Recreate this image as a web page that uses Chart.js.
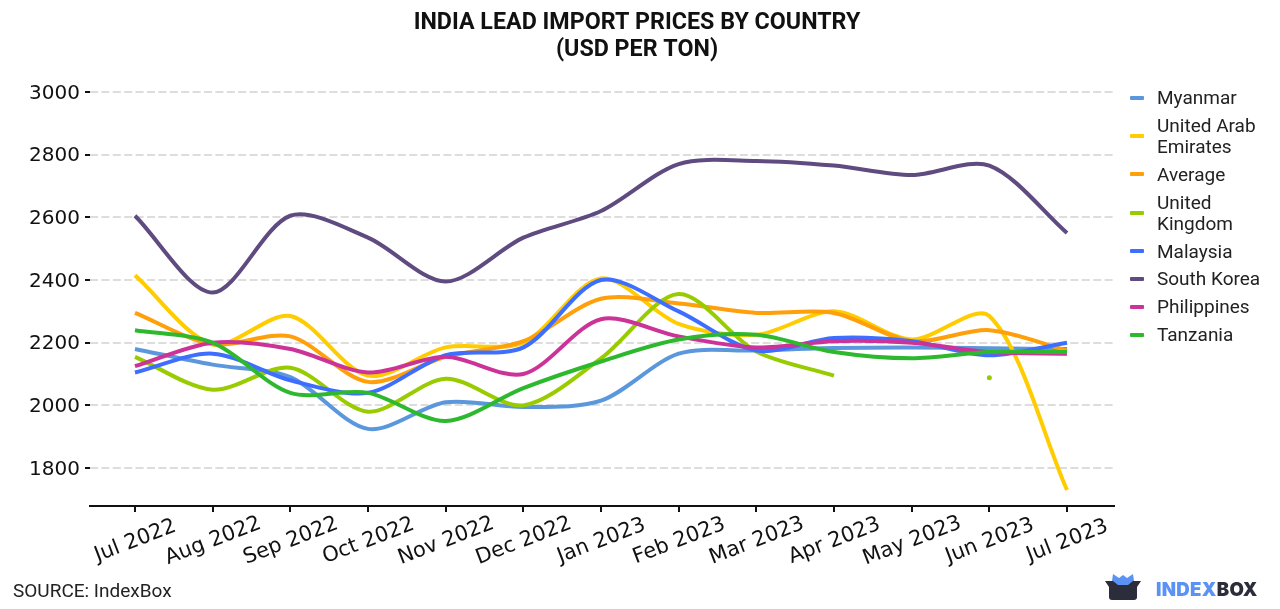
<!DOCTYPE html>
<html>
<head>
<meta charset="utf-8">
<style>
  html, body { margin: 0; padding: 0; background: #fff; overflow: hidden; }
  #wrap { position: relative; width: 1280px; height: 609px; }
  #source { position: absolute; left: 13px; top: 579px; font: 19px Roboto, sans-serif; color: #222; }
  #logo { position: absolute; left: 1104px; top: 572px; }
  #logoText { position: absolute; left: 1156px; top: 578px; font: 900 18.6px Inter, Roboto, sans-serif; color: #2b2d3b; letter-spacing: 0.3px; }
  #logoText span { color: #5b93f5; }
  #legend { position: absolute; left: 1130px; top: 87px; font: 19px/21px Roboto, sans-serif; color: #222; }
  .row { display: flex; align-items: center; margin-bottom: 6.9px; }
  .swatch { width: 14px; height: 4px; margin-right: 13px; border-radius: 1px; }
</style>
</head>
<body>
<div id="wrap">
  <canvas id="chart" width="1280" height="609"></canvas>
  <div id="legend"></div>
  <div id="source">SOURCE: IndexBox</div>
  <svg id="logo" width="38" height="30" viewBox="0 0 38 30">
    <path d="M8 9 L9 2 L15 6 L19 3 L23 6 L29 2 L30 9 L27 14 L11 14 Z" fill="#5b93f5"/>
    <path d="M1 9 L9 9 L14 13 L24 13 L29 9 L37 9 L33 15 L33 25 Q33 28 30 28 L8 28 Q5 28 5 25 L5 15 Z" fill="#2b2d3b"/>
  </svg>
  <div id="logoText"><span>INDEX</span>BOX</div>
</div>
<script src="https://cdn.jsdelivr.net/npm/chart.js@4/dist/chart.umd.min.js"></script>
<script>
// Chart data
const months = ["Jul 2022", "Aug 2022", "Sep 2022", "Oct 2022", "Nov 2022", "Dec 2022", "Jan 2023", "Feb 2023", "Mar 2023", "Apr 2023", "May 2023", "Jun 2023", "Jul 2023"];

const myanmar = [2180, 2130, 2090, 1925, 2010, 1995, 2015, 2165, 2175, 2183, 2185, 2182, 2180];
const uae = [2415, 2195, 2285, 2095, 2185, 2200, 2405, 2260, 2225, 2300, 2210, 2285, 1730];
const average = [2295, 2195, 2220, 2075, 2155, 2205, 2340, 2325, 2295, 2295, 2205, 2240, 2175];
const uk = [2155, 2050, 2120, 1980, 2085, 2000, 2150, 2355, 2172, 2095, null, 2088, null];
const malaysia = [2105, 2165, 2080, 2040, 2160, 2185, 2400, 2300, 2175, 2215, 2205, 2160, 2200];
const southKorea = [2605, 2360, 2605, 2535, 2395, 2535, 2620, 2770, 2780, 2765, 2735, 2765, 2550];
const philippines = [2125, 2200, 2180, 2105, 2155, 2100, 2275, 2220, 2185, 2205, 2200, 2170, 2165];
const tanzania = [2240, 2200, 2040, 2040, 1950, 2055, 2140, 2210, 2225, 2170, 2150, 2170, 2170];

const seriesNames = ["Myanmar", "United Arab\nEmirates", "Average", "United\nKingdom", "Malaysia", "South Korea", "Philippines", "Tanzania"];
const seriesValues = [myanmar, uae, average, uk, malaysia, southKorea, philippines, tanzania];
const seriesColors = ["#5b97dc", "#ffcc00", "#ff9f0a", "#99cc00", "#3d6eff", "#5f4b80", "#cc3399", "#2eb82e"];

// A month with no neighbours still needs a visible dot
function dotRadius(ctx) {
    const values = ctx.dataset.data;
    const i = ctx.dataIndex;
    const before = values[i - 1];
    const after = values[i + 1];
    return before && before.y === null && after && after.y === null ? 2.5 : 0;
}

const datasets = seriesNames.map((name, s) => ({
    label: name.replace("\n", " "),
    data: seriesValues[s].map((v, i) => ({ x: i, y: v })),
    borderColor: seriesColors[s],
    backgroundColor: seriesColors[s],
    borderWidth: 4,
    tension: 0.3,
    fill: false,
    pointRadius: dotRadius,
    pointBorderWidth: 0,
    pointHoverRadius: 3,
    order: seriesNames.length - s
}));

// Legend rows, wrapped names keep the swatch centred on both lines
const legendBox = document.getElementById("legend");
seriesNames.forEach((name, s) => {
    const row = document.createElement("div");
    row.className = "row";
    const swatch = document.createElement("div");
    swatch.className = "swatch";
    swatch.style.background = seriesColors[s];
    const text = document.createElement("div");
    text.style.whiteSpace = "pre";
    text.textContent = name;
    row.appendChild(swatch);
    row.appendChild(text);
    legendBox.appendChild(row);
});

// Title is centred on the whole page, month labels are centred on their ticks
const tweaks = {
    id: "tweaks",
    beforeDraw(chart) {
        chart.titleBlock.left = 0;
        chart.titleBlock.right = 1274;
        chart.scales.x.getLabelItems().forEach((item) => {
            item.options.textAlign = "center";
            item.options.textBaseline = "middle";
            item.options.translation[0] += 5;
            item.options.translation[1] = 541;
            item.textOffset = 0;
        });
        chart.scales.y.getLabelItems().forEach((item) => {
            item.options.translation[1] += 1.5;
        });
    }
};

new Chart(document.getElementById("chart").getContext("2d"), {
    type: "line",
    data: { datasets: datasets },
    plugins: [tweaks],
    options: {
        responsive: false,
        animation: false,
        layout: { padding: { left: 0, right: 166, top: 0, bottom: 0 } },
        plugins: {
            title: {
                display: true,
                text: ["INDIA LEAD IMPORT PRICES BY COUNTRY", "(USD PER TON)"],
                color: "#111",
                font: { family: "Roboto", size: 23.25, weight: "bold", lineHeight: 1.16 },
                padding: { top: 10, bottom: 28 }
            },
            legend: { display: false },
            tooltip: { enabled: false }
        },
        scales: {
            x: {
                type: "linear",
                min: -0.579,
                max: 12.605,
                afterFit(scale) { scale.height = 103; },
                border: { color: "#111", width: 2 },
                grid: { drawOnChartArea: false, color: "#111", tickLength: 6, lineWidth: 2 },
                ticks: {
                    stepSize: 1,
                    includeBounds: false,
                    autoSkip: false,
                    minRotation: 21,
                    maxRotation: 21,
                    color: "#111",
                    font: { family: "DejaVu Sans", size: 21 },
                    callback: (v) => months[v]
                }
            },
            y: {
                min: 1679,
                max: 3000,
                afterFit(scale) { scale.width = 90; },
                border: { display: false, dash: [8, 3.4] },
                grid: { color: "#dddddd", lineWidth: 2, tickColor: "#111", tickLength: 5, tickBorderDash: [] },
                ticks: {
                    stepSize: 200,
                    includeBounds: false,
                    color: "#111",
                    padding: 5,
                    font: { family: "DejaVu Sans", size: 20 },
                    callback: (v) => String(v)
                }
            }
        }
    }
});
</script>
</body>
</html>
